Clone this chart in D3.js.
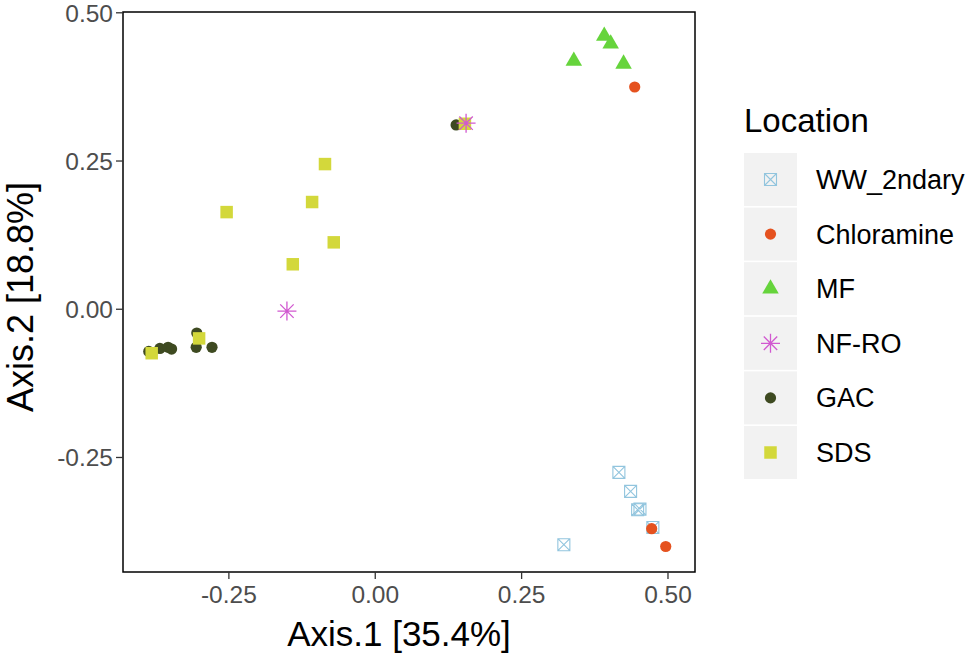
<!DOCTYPE html>
<html>
<head>
<meta charset="utf-8">
<script src="https://cdn.jsdelivr.net/npm/d3@7"></script>
<style>
  html, body { margin: 0; padding: 0; background: #fff; }
  svg { display: block; font-family: "Liberation Sans", Arial, sans-serif; }
</style>
</head>
<body>
<svg id="chart" width="970" height="659"></svg>
<script>
// ---- data ----
const locations = ["WW_2ndary", "Chloramine", "MF", "NF-RO", "GAC", "SDS"];
const colors = ["#92c5de", "#e5521f", "#66d43c", "#d158d0", "#3e4a21", "#d3d83b"];

const wwX = [0.417, 0.437, 0.449, 0.453, 0.475, 0.323];
const wwY = [-0.276, -0.308, -0.339, -0.338, -0.369, -0.398];

const chlX = [0.473, 0.497, 0.444];
const chlY = [-0.371, -0.401, 0.374];

const mfX = [0.392, 0.403, 0.340, 0.425];
const mfY = [0.460, 0.447, 0.418, 0.413];

const nfX = [-0.150, 0.156];
const nfY = [-0.004, 0.313];

const gacX = [-0.386, -0.367, -0.353, -0.347, -0.304, -0.305, -0.278, 0.139];
const gacY = [-0.072, -0.067, -0.065, -0.068, -0.041, -0.065, -0.065, 0.310];

const sdsX = [-0.381, -0.300, -0.085, -0.107, -0.253, -0.070, -0.140, 0.154];
const sdsY = [-0.075, -0.050, 0.244, 0.180, 0.163, 0.112, 0.075, 0.312];

const xTicks = [-0.25, 0.00, 0.25, 0.50];
const yTicks = [-0.25, 0.00, 0.25, 0.50];
const xTitle = "Axis.1 [35.4%]";
const yTitle = "Axis.2 [18.8%]";
const legendTitle = "Location";

// ---- layout ----
const svg = d3.select("#chart");
const panel = { left: 123, top: 12, right: 695, bottom: 572 };

const x = d3.scaleLinear().domain([-0.430, 0.547]).range([panel.left, panel.right]);
const y = d3.scaleLinear().domain([-0.444, 0.5005]).range([panel.bottom, panel.top]);

// symbol path generators
function squareCross(s) {
  const h = s / 2;
  return `M${-h},${-h}H${h}V${h}H${-h}Z M${-h},${-h}L${h},${h} M${-h},${h}L${h},${-h}`;
}
function asterisk(r) {
  const d = r / Math.SQRT2;
  return `M${-r},0H${r} M0,${-r}V${r} M${-d},${-d}L${d},${d} M${-d},${d}L${d},${-d}`;
}
const shapeDefs = {
  "WW_2ndary": { path: squareCross(12), fill: "none", stroke: true, sw: 1.1 },
  "Chloramine": { path: d3.symbol(d3.symbolCircle, Math.PI * 5.6 * 5.6)(), fill: true },
  "MF": { path: d3.symbol(d3.symbolTriangle, 118)(), fill: true },
  "NF-RO": { path: asterisk(9.5), fill: "none", stroke: true, sw: 1.3 },
  "GAC": { path: d3.symbol(d3.symbolCircle, Math.PI * 5.6 * 5.6)(), fill: true },
  "SDS": { path: d3.symbol(d3.symbolSquare, 12.5 * 12.5)(), fill: true }
};

const series = [
  { name: "WW_2ndary", xs: wwX, ys: wwY },
  { name: "Chloramine", xs: chlX, ys: chlY },
  { name: "MF", xs: mfX, ys: mfY },
  { name: "GAC", xs: gacX, ys: gacY },
  { name: "SDS", xs: sdsX, ys: sdsY },
  { name: "NF-RO", xs: nfX, ys: nfY }
];

function styleSym(sel, name) {
  const def = shapeDefs[name];
  const col = colors[locations.indexOf(name)];
  sel.attr("d", def.path)
    .attr("fill", def.fill === true ? col : "none")
    .attr("stroke", def.stroke ? col : "none")
    .attr("stroke-width", def.sw || 0)
    .attr("stroke-linecap", "butt");
}

// panel background
svg.append("rect")
  .attr("x", panel.left).attr("y", panel.top)
  .attr("width", panel.right - panel.left).attr("height", panel.bottom - panel.top)
  .attr("fill", "#fff");

// points
const gPts = svg.append("g");
series.forEach(s => {
  const pts = s.xs.map((v, i) => ({ x: v, y: s.ys[i] }));
  gPts.selectAll(null).data(pts).enter().append("path")
    .attr("transform", d => `translate(${x(d.x)},${y(d.y)})`)
    .call(sel => styleSym(sel, s.name));
});

// panel border
svg.append("rect")
  .attr("x", panel.left).attr("y", panel.top)
  .attr("width", panel.right - panel.left).attr("height", panel.bottom - panel.top)
  .attr("fill", "none").attr("stroke", "#000").attr("stroke-width", 1.5);

// axes
const xAxis = svg.append("g")
  .attr("transform", `translate(0,${panel.bottom})`)
  .call(d3.axisBottom(x).tickValues(xTicks).tickFormat(d3.format(".2f")).tickSize(7).tickPadding(4));
const yAxis = svg.append("g")
  .attr("transform", `translate(${panel.left},0)`)
  .call(d3.axisLeft(y).tickValues(yTicks).tickFormat(d3.format(".2f")).tickSize(7).tickPadding(3));
[xAxis, yAxis].forEach(a => {
  a.select(".domain").remove();
  a.selectAll(".tick line").attr("stroke", "#333").attr("stroke-width", 1.3);
  a.selectAll(".tick text").attr("fill", "#4d4d4d").attr("font-size", 24.5)
    .attr("font-family", "Liberation Sans, Arial, sans-serif");
});
xAxis.selectAll(".tick text").attr("dy", "0.8em");
yAxis.selectAll(".tick text").attr("dy", "0.36em");
// hyphen-minus like the reference
[xAxis, yAxis].forEach(a => a.selectAll(".tick text").text(d => d3.format(".2f")(d).replace("−", "-")));

// axis titles
svg.append("text")
  .attr("x", 399).attr("y", 646)
  .attr("text-anchor", "middle").attr("font-size", 35).attr("fill", "#000")
  .text(xTitle);
svg.append("text")
  .attr("transform", `translate(33,297) rotate(-90)`)
  .attr("text-anchor", "middle").attr("font-size", 36).attr("fill", "#000")
  .text(yTitle);

// legend
const lg = svg.append("g");
lg.append("text").attr("x", 744).attr("y", 132).attr("font-size", 33).attr("fill", "#000").text(legendTitle);
const keyTop = 153, keyH = 53, keyPitch = 54.6, keyW = 53, keyX = 744;
locations.forEach((name, i) => {
  const ty = keyTop + i * keyPitch;
  lg.append("rect").attr("x", keyX).attr("y", ty).attr("width", keyW).attr("height", keyH).attr("fill", "#f2f2f2");
  lg.append("path").attr("transform", `translate(${keyX + keyW / 2},${ty + keyH / 2})`)
    .call(sel => styleSym(sel, name));
  lg.append("text").attr("x", 816).attr("y", ty + keyH / 2 + 9.5)
    .attr("font-size", 27).attr("fill", "#000").text(name);
});
</script>
</body>
</html>
